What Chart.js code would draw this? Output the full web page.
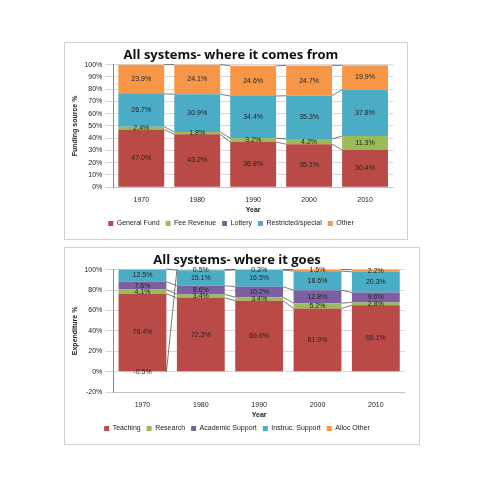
<!DOCTYPE html>
<html><head><meta charset="utf-8">
<script src="https://cdn.jsdelivr.net/npm/chart.js@4"></script>
<style>
body{margin:0;background:#fff;font-family:Calibri,"Liberation Sans",sans-serif}
.box{position:absolute;border:1px solid #d0d0d0;background:#fff}
</style></head><body>
<div class="box" style="left:64px;top:42px;width:342px;height:196px"><canvas id="c1"></canvas></div>
<div class="box" style="left:64px;top:247px;width:354px;height:196px"><canvas id="c2"></canvas></div>
<script>
const years = ["1970","1980","1990","2000","2010"];
const generalFund = [47.0,43.2,36.8,35.1,30.4];
const feeRevenue = [2.4,1.8,3.2,4.2,11.3];
const lottery = [0,0,0,0,0];
const restricted = [26.7,30.9,34.4,35.3,37.8];
const otherSrc = [23.9,24.1,24.6,24.7,19.9];
const teaching = [76.4,72.3,69.6,61.9,65.1];
const research = [4.1,3.4,3.4,5.2,2.8];
const academic = [7.6,8.6,10.2,12.8,9.6];
const instruc = [12.5,15.1,16.5,18.6,20.3];
const allocOther = [-0.5,0.5,0.3,1.5,2.2];
const C = {red:"#B94A47",green:"#9BBB59",purple:"#7D60A0",aqua:"#4BACC6",orange:"#F79646"};
const FONT = "'Liberation Sans',sans-serif";

const labelsPlugin = {
  id:"lbl",
  afterDatasetsDraw(chart){
    const ctx = chart.ctx;
    ctx.save();
    ctx.font = "7px "+FONT; ctx.fillStyle="#222"; ctx.textAlign="center"; ctx.textBaseline="middle";
    ctx.strokeStyle="#444"; ctx.lineWidth=0.7;
    chart.data.datasets.forEach((ds,i)=>{
      const m = chart.getDatasetMeta(i);
      if(ds.data.every(v=>v===0)) return;
      for(let j=0;j<m.data.length-1;j++){
        const a=m.data[j], b=m.data[j+1];
        ctx.beginPath(); ctx.moveTo(a.x+a.width/2,a.y); ctx.lineTo(b.x-b.width/2,b.y); ctx.stroke();
      }
    });
    chart.data.datasets.forEach((ds,i)=>{
      const m = chart.getDatasetMeta(i);
      m.data.forEach((el,j)=>{
        const v = ds.data[j]; if(v===0) return;
        ctx.fillText(v.toFixed(1)+"%", el.x, (el.y+el.base)/2);
      });
    });
    ctx.restore();
  }
};

function mk(id,title,ytitle,sets,min,step){
  return new Chart(document.getElementById(id),{
    type:"bar",
    data:{labels:years,datasets:sets.map(s=>({label:s[0],data:s[1],backgroundColor:s[2],categoryPercentage:1,barPercentage:0.82}))},
    options:{responsive:true,maintainAspectRatio:false,animation:false,
      layout:{padding:{left:4,right:14,top:0,bottom:2}},
      plugins:{
        title:{display:true,text:title,font:{family:"'Open Sans',"+FONT,size:13,weight:"bold"},color:"#111",padding:{top:4,bottom:2}},
        legend:{position:"bottom",labels:{boxWidth:5,boxHeight:5,font:{family:FONT,size:7},color:"#222",padding:6}},
        tooltip:{enabled:false}},
      scales:{
        x:{stacked:true,grid:{display:false},ticks:{padding:1,font:{family:FONT,size:7},color:"#222"},
           title:{display:true,text:"Year",font:{family:FONT,size:7,weight:"bold"},color:"#222",padding:0}},
        y:{stacked:true,min:min,max:100,ticks:{autoSkip:false,stepSize:step,callback:v=>v+"%",font:{family:FONT,size:7},color:"#222"},
           grid:{color:"#d8d8d8"},border:{color:"#888"},
           title:{display:true,text:ytitle,font:{family:FONT,size:7,weight:"bold"},color:"#222",padding:2}}
      }},
    plugins:[labelsPlugin]
  });
}
mk("c1","All systems- where it comes from","Funding source %",[
  ["General Fund",generalFund,C.red],["Fee Revenue",feeRevenue,C.green],["Lottery",lottery,C.purple],
  ["Restricted/special",restricted,C.aqua],["Other",otherSrc,C.orange]],0,10);
mk("c2","All systems- where it goes","Expenditure %",[
  ["Teaching",teaching,C.red],["Research",research,C.green],["Academic Support",academic,C.purple],
  ["Instruc. Support",instruc,C.aqua],["Alloc Other",allocOther,C.orange]],-20,20);
</script></body></html>
